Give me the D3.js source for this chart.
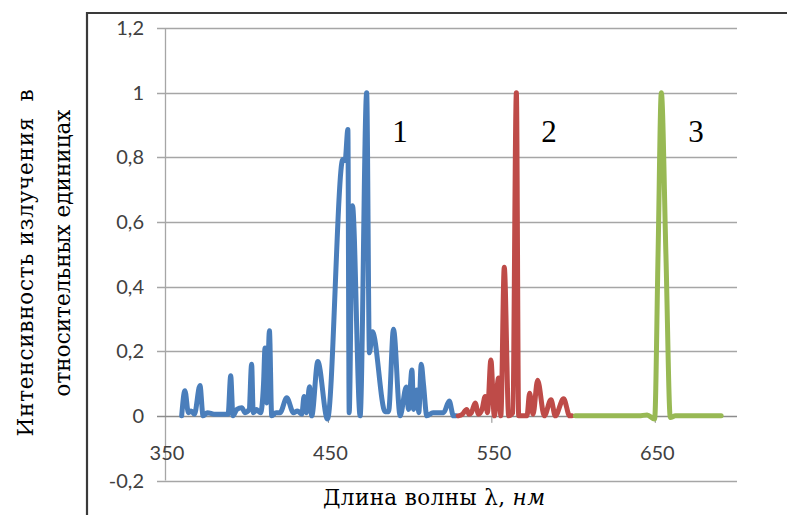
<!DOCTYPE html>
<html>
<head>
<meta charset="utf-8">
<script src="https://cdn.jsdelivr.net/npm/d3@7"></script>
<style>
  body { margin: 0; background: #fff; }
  svg { display: block; }
</style>
</head>
<body>
<svg id="chart" width="787" height="515"></svg>
<script>
// spectrum 1 (blue)
var wl1 = [360.2, 362.2, 364.3, 366, 368, 371.4, 373.3, 376, 380, 385, 388.6, 390.2, 391.6, 394, 397, 399, 401.5, 403, 404, 406, 407, 408.5,
  410.3, 411.2, 412.3, 413.9, 415.3, 418, 420.4, 424.5, 428.6, 431, 433.7, 435.1, 436.6, 438.4, 439.8, 443.5, 449.4, 458.8, 460.2, 461.9,
  462.7, 464.7, 469.4, 473.4, 475.1, 476.9, 484.7, 486.8, 489.8, 493.9, 497.6, 499, 501.1, 502.1, 504.1, 505.3, 506.8, 508.2,
  510.2, 514, 518, 520.5, 523.9, 526.5, 528.2];
var int1 = [0, 0.078, 0.01, 0.015, 0.005, 0.094, 0, 0.01, 0.005, 0.005, 0.005, 0.124, 0, 0.02, 0.025, 0.01, 0.02, 0.16, 0.01, 0.02, 0.015, 0.01,
  0.1, 0.21, 0.04, 0.263, 0, 0.01, 0.01, 0.056, 0.01, 0.015, 0.005, 0.06, 0.01, 0.09, 0, 0.168, -0.01, 0.793, 0.79, 0.886,
  0.01, 0.65, 0, 1, 0.195, 0.26, 0.013, 0.013, 0.268, 0, 0.089, 0.02, 0.142, 0.02, 0.08, 0.01, 0.16, 0.096,
  0, 0.01, 0.01, 0.01, 0.046, 0, 0];

// spectrum 2 (red)
var wl2 = [529.4, 532, 534.6, 536, 537.5, 539.8, 541.8, 544, 545.9, 547.3, 549.4, 551.5, 554.1, 555.5, 557.6, 560.3, 562.8, 565, 566.4,
  569, 571.5, 573.1, 575.2, 578, 582.1, 586.2, 588.8, 593.9, 597.6, 599];
var int2 = [0, 0.005, 0.02, 0.005, 0.01, 0.04, 0.005, 0.02, 0.06, 0.01, 0.173, 0, 0.117, 0, 0.46, 0, 0.01, 1, 0,
  0, 0, 0.07, 0.005, 0.11, 0, 0.05, 0, 0.053, 0, 0];

// spectrum 3 (green)
var wl3 = [601.1, 620, 640, 645, 649.6, 651.7, 653.7, 656.5, 659.2, 662.3, 675, 690.3];
var int3 = [0, 0, 0, 0.003, -0.01, 0.5, 1, 0.5, -0.005, 0, 0, 0];

var xTicks = [350, 450, 550, 650];
var yTicks = [-0.2, 0, 0.2, 0.4, 0.6, 0.8, 1, 1.2];
var seriesLabels = ["1", "2", "3"];
var labelX = [400, 549, 696];

var svg = d3.select("#chart");

var x = d3.scaleLinear().domain([350, 700]).range([165, 737]);
var y = d3.scaleLinear().domain([-0.2, 1.2]).range([480.5, 28]);

// outer frame
svg.append("path")
    .attr("d", "M87,515 L87,13 L787,13")
    .attr("fill", "none")
    .attr("stroke", "#3a3a3a")
    .attr("stroke-width", 2.2);

// gridlines
svg.append("g").selectAll("line")
    .data(yTicks.filter(function(d) { return d != 0; }))
    .enter().append("line")
    .attr("x1", 157).attr("x2", 737)
    .attr("y1", function(d) { return Math.round(y(d)) + 0.5; })
    .attr("y2", function(d) { return Math.round(y(d)) + 0.5; })
    .attr("stroke", "#a6a6a6")
    .attr("stroke-width", 1.3);

// y axis line
svg.append("line")
    .attr("x1", 165.5).attr("x2", 165.5)
    .attr("y1", y(1.2)).attr("y2", y(-0.2))
    .attr("stroke", "#a6a6a6")
    .attr("stroke-width", 1.3);

// zero axis with ticks
svg.append("line")
    .attr("x1", 157).attr("x2", 737)
    .attr("y1", Math.round(y(0)) + 0.5).attr("y2", Math.round(y(0)) + 0.5)
    .attr("stroke", "#8c8c8c")
    .attr("stroke-width", 1.3);

svg.append("g").selectAll("line")
    .data(xTicks.slice(1))
    .enter().append("line")
    .attr("x1", function(d) { return x(d); })
    .attr("x2", function(d) { return x(d); })
    .attr("y1", y(0)).attr("y2", y(0) + 7)
    .attr("stroke", "#8c8c8c")
    .attr("stroke-width", 1);

// tick labels
svg.append("g").selectAll("text")
    .data(yTicks)
    .enter().append("text")
    .attr("x", 144)
    .attr("y", function(d) { return y(d); })
    .attr("dy", "0.35em")
    .attr("text-anchor", "end")
    .style("font-family", "Lato, 'Open Sans', sans-serif")
    .style("font-size", "20px")
    .style("fill", "#404040")
    .text(function(d) { return String(d).replace(".", ","); });

svg.append("g").selectAll("text")
    .data(xTicks)
    .enter().append("text")
    .attr("x", function(d) { return x(d) + 2; })
    .attr("y", 453)
    .attr("dy", "0.35em")
    .attr("text-anchor", "middle")
    .style("font-family", "Lato, 'Open Sans', sans-serif")
    .style("font-size", "20px")
    .style("fill", "#404040")
    .text(function(d) { return d; });

// spectra
var line = d3.line()
    .x(function(d) { return x(d[0]); })
    .y(function(d) { return y(d[1]); })
    .curve(d3.curveMonotoneX);

var series = [
  { wl: wl1, val: int1, color: "#4a7ebb" },
  { wl: wl2, val: int2, color: "#be4b48" },
  { wl: wl3, val: int3, color: "#98b954" }
];

series.forEach(function(s) {
    svg.append("path")
        .datum(d3.zip(s.wl, s.val))
        .attr("d", line)
        .attr("fill", "none")
        .attr("stroke", s.color)
        .attr("stroke-width", 5)
        .attr("stroke-linejoin", "round")
        .attr("stroke-linecap", "round");
});

// series numbers
svg.append("g").selectAll("text")
    .data(seriesLabels)
    .enter().append("text")
    .attr("x", function(d, i) { return labelX[i]; })
    .attr("y", 142)
    .attr("text-anchor", "middle")
    .style("font-family", "'Liberation Serif', serif")
    .style("font-size", "31px")
    .style("fill", "#000")
    .text(function(d) { return d; });

// axis titles
var serif = "'DejaVu Serif', serif";

var xTitle = svg.append("text")
    .attr("x", 434)
    .attr("y", 505)
    .attr("text-anchor", "middle")
    .attr("textLength", 222)
    .style("font-family", serif)
    .style("font-size", "21.5px")
    .style("fill", "#000");
xTitle.append("tspan").text("Длина волны λ, ");
xTitle.append("tspan").style("font-style", "italic").text("нм");

svg.append("text")
    .attr("transform", "translate(33,263) rotate(-90)")
    .attr("text-anchor", "middle")
    .attr("textLength", 347)
    .style("font-family", serif)
    .style("font-size", "21.5px")
    .style("fill", "#000")
    .style("white-space", "pre")
    .text("Интенсивность излучения  в");

svg.append("text")
    .attr("transform", "translate(70,253) rotate(-90)")
    .attr("text-anchor", "middle")
    .attr("textLength", 287)
    .style("font-family", serif)
    .style("font-size", "21.5px")
    .style("fill", "#000")
    .text("относительных единицах");
</script>
</body>
</html>
